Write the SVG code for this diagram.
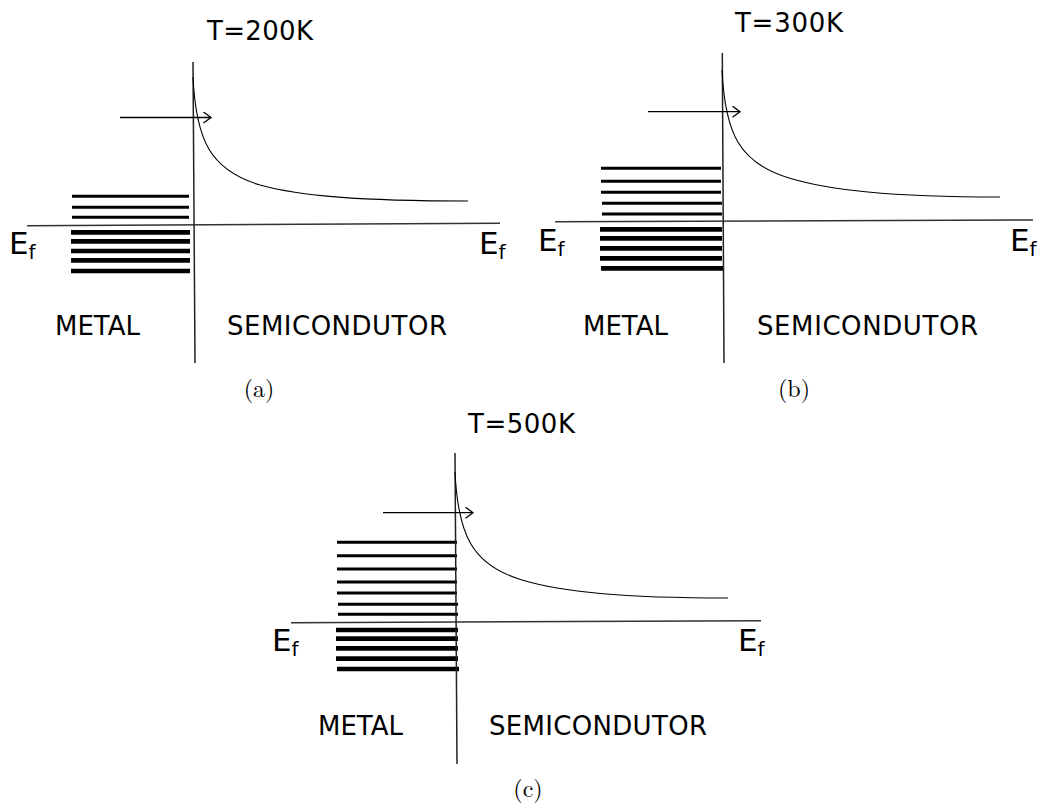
<svg xmlns="http://www.w3.org/2000/svg" width="1052" height="809" viewBox="0 0 1052 809">
<defs>
<marker id="open" markerUnits="userSpaceOnUse" markerWidth="12" markerHeight="14" refX="8" refY="6" orient="auto" viewBox="0 0 12 14">
<path d="M0.5,0.5 L8,6 L0.5,11.5" fill="none" stroke="#000" stroke-width="1.3"/>
</marker>
</defs>
<style>
.lab{font-family:"DejaVu Sans",Verdana,sans-serif;font-size:26px;fill:#000}
.ef{font-family:"DejaVu Sans",Verdana,sans-serif;font-size:31px;fill:#000}
.sub{font-size:20px}
.cap{font-family:"Latin Modern Roman","Liberation Serif",serif;font-size:24px;fill:#000}
.vline{stroke:#222;stroke-width:1.5;fill:none}
.fline{stroke:#333;stroke-width:1.5;fill:none}
.curve{stroke:#000;stroke-width:1.1;fill:none}
.arrow{stroke:#000;stroke-width:1.3;fill:none}
.thin{stroke:#000;stroke-width:3}
.thick{stroke:#000;stroke-width:4.7}
</style>
<rect width="1052" height="809" fill="#fff"/>

<g id="panel-a">
<text class="lab" x="207" y="40" textLength="106">T=200K</text>
<g id="metal-a">
<line class="thin" x1="72" y1="196.3" x2="189" y2="196.3"/>
<line class="thin" x1="72" y1="207.3" x2="189" y2="207.3"/>
<line class="thin" x1="72" y1="217.3" x2="189" y2="217.3"/>
<line class="thick" x1="71" y1="232.3" x2="190" y2="232.3"/>
<line class="thick" x1="71" y1="241.3" x2="190" y2="241.3"/>
<line class="thick" x1="71" y1="251" x2="190" y2="251"/>
<line class="thick" x1="71" y1="260.3" x2="190" y2="260.3"/>
<line class="thick" x1="71" y1="271" x2="190" y2="271"/>
</g>
<line class="fline" x1="27" y1="225.7" x2="500" y2="223.3"/>
<line class="vline" x1="193" y1="62" x2="195" y2="363"/>
<path class="curve" d="M193,77 C196,140 210,170 260,185 C300,196 360,201 468,201"/>
<text class="ef" x="9" y="254">E<tspan class="sub" dy="5">f</tspan></text>
<text class="ef" x="479" y="254">E<tspan class="sub" dy="5">f</tspan></text>
<text class="lab" x="55" y="335" textLength="85">METAL</text>
<text class="lab" x="227" y="335" textLength="220">SEMICONDUTOR</text>
<text class="cap" x="259" y="397" text-anchor="middle">(a)</text>
</g>

<g id="panel-b">
<text class="lab" x="735" y="31.7" textLength="108">T=300K</text>
<g id="metal-b">
<line class="thin" x1="601" y1="168.3" x2="721" y2="168.3"/>
<line class="thin" x1="601" y1="181.3" x2="721" y2="181.3"/>
<line class="thin" x1="601" y1="192.3" x2="721" y2="192.3"/>
<line class="thin" x1="602" y1="203.3" x2="722" y2="203.3"/>
<line class="thin" x1="602" y1="214" x2="722" y2="214"/>
<line class="thick" x1="600" y1="229.3" x2="722" y2="229.3"/>
<line class="thick" x1="600" y1="238.3" x2="722" y2="238.3"/>
<line class="thick" x1="600" y1="248.3" x2="722" y2="248.3"/>
<line class="thick" x1="600" y1="258.3" x2="722" y2="258.3"/>
<line class="thick" x1="601" y1="268.3" x2="723" y2="268.3"/>
</g>
<line class="fline" x1="555" y1="221.7" x2="1033" y2="220"/>
<line class="vline" x1="722.3" y1="53" x2="724" y2="363"/>
<path class="curve" d="M722,70 C725,133 739,163 789,178 C829,190 889,197 1000,197"/>
<text class="ef" x="538" y="251">E<tspan class="sub" dy="5">f</tspan></text>
<text class="ef" x="1010" y="251">E<tspan class="sub" dy="5">f</tspan></text>
<text class="lab" x="583" y="335" textLength="85">METAL</text>
<text class="lab" x="757" y="335" textLength="221">SEMICONDUTOR</text>
<text class="cap" x="794" y="397" text-anchor="middle">(b)</text>
</g>

<g id="panel-c">
<text class="lab" x="468" y="433" textLength="107">T=500K</text>
<g id="metal-c">
<line class="thin" x1="337" y1="542.3" x2="457" y2="542.3"/>
<line class="thin" x1="337" y1="555.7" x2="457" y2="555.7"/>
<line class="thin" x1="337" y1="569" x2="457" y2="569"/>
<line class="thin" x1="337" y1="582" x2="457" y2="582"/>
<line class="thin" x1="337" y1="593" x2="457" y2="593"/>
<line class="thin" x1="338" y1="604.3" x2="458" y2="604.3"/>
<line class="thin" x1="338" y1="614.3" x2="458" y2="614.3"/>
<line class="thick" x1="336" y1="630" x2="458" y2="630"/>
<line class="thick" x1="336" y1="638.7" x2="458" y2="638.7"/>
<line class="thick" x1="336" y1="648.3" x2="458" y2="648.3"/>
<line class="thick" x1="336" y1="658.7" x2="458" y2="658.7"/>
<line class="thick" x1="337" y1="669" x2="459" y2="669"/>
</g>
<line class="fline" x1="291" y1="622.7" x2="761" y2="620.7"/>
<line class="vline" x1="455" y1="453" x2="457" y2="764"/>
<path class="curve" d="M455,472 C458,535 472,565 522,580 C562,592 622,598 728,598"/>
<text class="ef" x="272" y="651">E<tspan class="sub" dy="5">f</tspan></text>
<text class="ef" x="738" y="651">E<tspan class="sub" dy="5">f</tspan></text>
<text class="lab" x="318" y="735" textLength="85">METAL</text>
<text class="lab" x="489" y="735" textLength="218">SEMICONDUTOR</text>
<text class="cap" x="528" y="797" text-anchor="middle">(c)</text>
</g>

<g id="connectors">
<line class="arrow" x1="120" y1="117.5" x2="211" y2="117.5" marker-end="url(#open)"/>
<line class="arrow" x1="648" y1="111.7" x2="740" y2="111.7" marker-end="url(#open)"/>
<line class="arrow" x1="383" y1="512.7" x2="473" y2="512.7" marker-end="url(#open)"/>
</g>
</svg>
